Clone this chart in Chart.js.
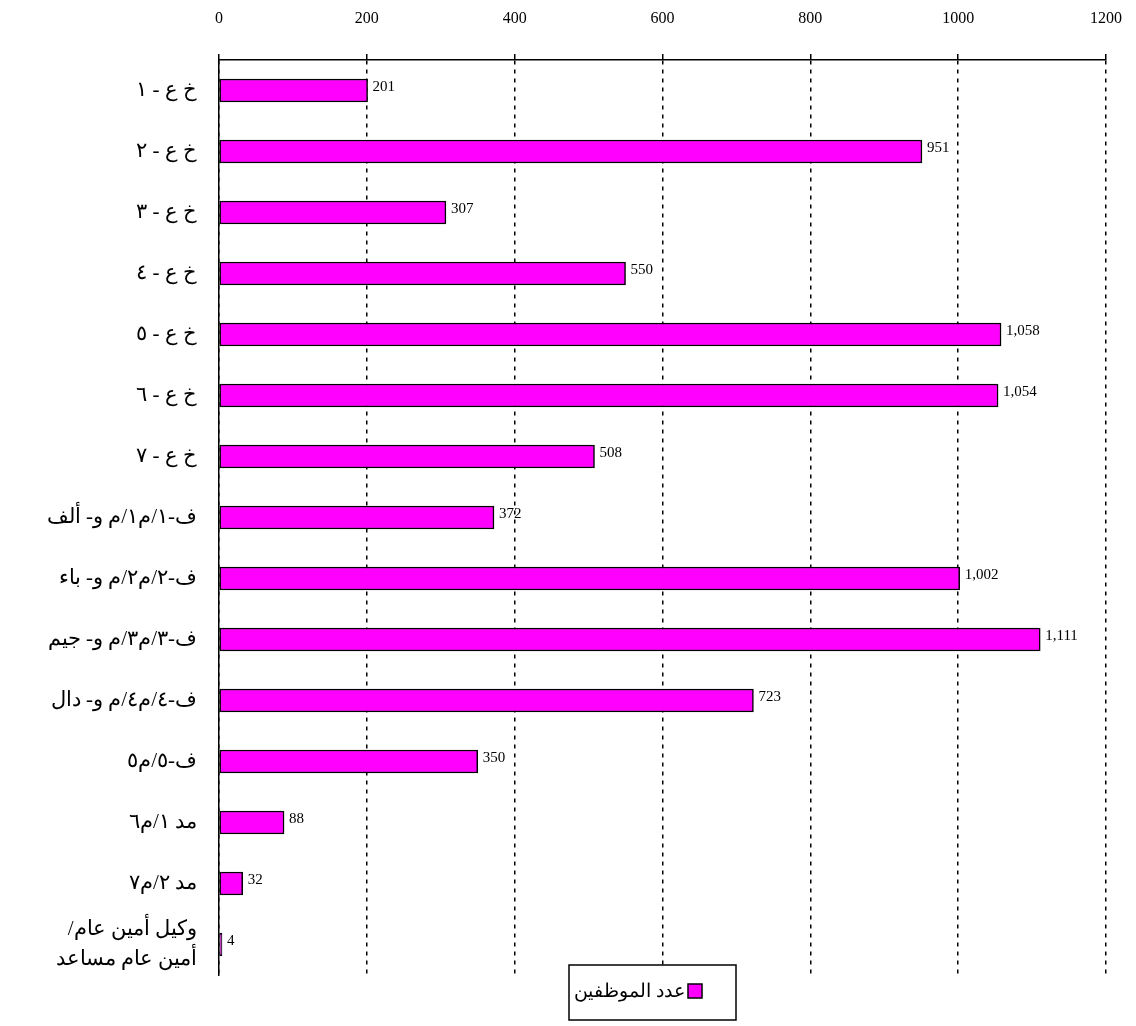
<!DOCTYPE html>
<html>
<head>
<meta charset="utf-8">
<script src="https://cdn.jsdelivr.net/npm/chart.js@4"></script>
<style>
  body { margin: 0; background: #fff; }
  #wrap { width: 1136px; height: 1026px; }
</style>
</head>
<body>
<div id="wrap"><canvas id="staffChart" dir="rtl" width="1136" height="1026"></canvas></div>
<script>
// الفئات
var categories = [
    'خ ع - ١',
    'خ ع - ٢',
    'خ ع - ٣',
    'خ ع - ٤',
    'خ ع - ٥',
    'خ ع - ٦',
    'خ ع - ٧',
    'ف-١/م١/م و- ألف',
    'ف-٢/م٢/م و- باء',
    'ف-٣/م٣/م و- جيم',
    'ف-٤/م٤/م و- دال',
    'ف-٥/م٥',
    'مد ١/م٦',
    'مد ٢/م٧',
    ['وكيل أمين عام/', 'أمين عام مساعد']
];
var staffCounts = [201, 951, 307, 550, 1058, 1054, 508, 372, 1002, 1111, 723, 350, 88, 32, 4];
var seriesName = 'عدد الموظفين';
var xTicks = [0, 200, 400, 600, 800, 1000, 1200];

var serif = "'Liberation Serif', 'DejaVu Serif', serif";
var barColor = '#ff00ff';

// قيم الأعمدة
var valueLabels = {
    id: 'valueLabels',
    afterDatasetsDraw: function (chart) {
        var ctx = chart.ctx;
        var meta = chart.getDatasetMeta(0);
        ctx.save();
        ctx.font = '15px ' + serif;
        ctx.fillStyle = '#000';
        ctx.textAlign = 'left';
        ctx.textBaseline = 'middle';
        meta.data.forEach(function (bar, i) {
            ctx.fillText(staffCounts[i].toLocaleString('en-US'), bar.x + 5, bar.y - 3);
        });
        ctx.restore();
    }
};

// وسيلة الإيضاح
var boxLegend = {
    id: 'boxLegend',
    afterDraw: function (chart) {
        var ctx = chart.ctx;
        var area = chart.chartArea;
        var w = 167, h = 55;
        var cx = (area.left + area.right) / 2 - 10;
        var x = cx - w / 2, y = area.bottom - 10;
        ctx.save();
        ctx.fillStyle = '#fff';
        ctx.fillRect(x, y, w, h);
        ctx.strokeStyle = '#000';
        ctx.lineWidth = 1.5;
        ctx.strokeRect(x, y, w, h);
        ctx.fillStyle = barColor;
        ctx.fillRect(x + 119, y + 19, 14, 14);
        ctx.strokeRect(x + 119, y + 19, 14, 14);
        ctx.fillStyle = '#000';
        ctx.font = '19px ' + serif;
        ctx.textAlign = 'right';
        ctx.textBaseline = 'middle';
        ctx.fillText(seriesName, x + 116, y + 27);
        ctx.restore();
    }
};

var ctx = document.getElementById('staffChart').getContext('2d');
window.staffChart = new Chart(ctx, {
    type: 'bar',
    data: {
        labels: categories,
        datasets: [{
            label: seriesName,
            data: staffCounts,
            backgroundColor: barColor,
            borderColor: '#000',
            borderWidth: 1.5,
            borderSkipped: false,
            barThickness: 23
        }]
    },
    plugins: [valueLabels, boxLegend],
    options: {
        indexAxis: 'y',
        responsive: false,
        animation: false,
        layout: { padding: { top: 8, left: 6, right: 30, bottom: 51 } },
        plugins: {
            legend: { display: false },
            tooltip: { enabled: false }
        },
        scales: {
            x: {
                position: 'top',
                min: 0,
                max: 1200,
                afterBuildTicks: function (axis) {
                    axis.ticks = xTicks.map(function (v) { return { value: v }; });
                },
                afterFit: function (axis) {
                    axis.height = 52;
                    axis.paddingLeft = 0;
                    axis.paddingRight = 0;
                },
                ticks: {
                    color: '#000',
                    font: { family: serif, size: 16 },
                    padding: 26,
                    maxRotation: 0,
                    callback: function (v) { return String(v); }
                },
                grid: {
                    color: '#000',
                    lineWidth: 1.5,
                    tickLength: 6,
                    tickBorderDash: [],
                    tickColor: '#000'
                },
                border: { display: true, color: '#000', width: 1.5, dash: [4, 5] }
            },
            y: {
                afterFit: function (axis) {
                    axis.width = 213;
                    axis.paddingTop = 0;
                    axis.paddingBottom = 0;
                },
                ticks: {
                    color: '#000',
                    font: { family: serif, size: 21, lineHeight: 1.4 },
                    padding: 22,
                    autoSkip: false
                },
                grid: { display: false, drawTicks: false },
                border: { display: true, color: '#000', width: 1.5 }
            }
        }
    }
});
</script>
</body>
</html>
